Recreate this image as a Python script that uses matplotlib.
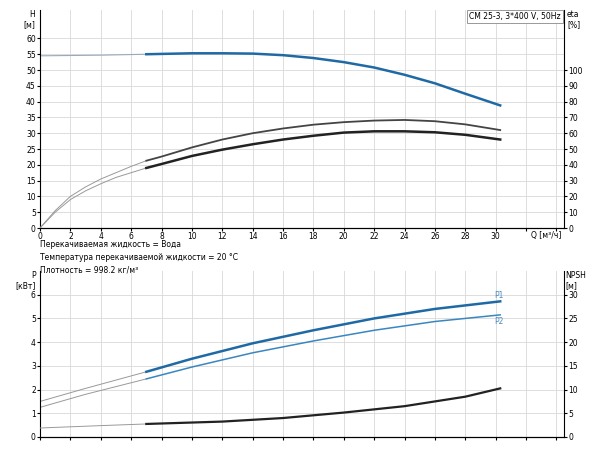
import matplotlib
matplotlib.use("Agg")
import matplotlib.pyplot as plt

q_h = [0, 2, 4, 7, 10, 12, 14, 16, 18, 20, 22, 24, 26, 28, 30.3]
h = [54.5, 54.6, 54.7, 55.0, 55.3, 55.3, 55.2, 54.7, 53.8, 52.5, 50.8, 48.5, 45.8, 42.5, 38.8]
q_e = [0, 1, 2, 3, 4, 5, 6, 7, 8, 10, 12, 14, 16, 18, 20, 22, 24, 26, 28, 30.3]
eta_p = [0, 11, 20, 26, 31, 35, 39, 42.6, 45.2, 51, 56, 60, 63, 65.4, 67, 68, 68.4, 67.6, 65.6, 62]
eta_m = [0, 10, 18, 23.5, 28, 32, 35, 38, 40.5, 45.6, 49.6, 53, 56, 58.4, 60.4, 61.2, 61.2, 60.6, 59, 56]
q_p = [0, 3, 7, 10, 14, 18, 22, 26, 30.3]
p1 = [1.5, 2.05, 2.75, 3.3, 3.95, 4.5, 5.0, 5.4, 5.72]
p2 = [1.25, 1.8, 2.45, 2.95, 3.55, 4.05, 4.5, 4.87, 5.15]
q_n = [0, 4, 7, 12, 16, 20, 24, 28, 30.3]
npsh = [1.9, 2.4, 2.75, 3.25, 4.0, 5.15, 6.5, 8.5, 10.25]

def split(x, y, c=7):
    a = [(xi, yi) for xi, yi in zip(x, y) if xi <= c]
    b = [(xi, yi) for xi, yi in zip(x, y) if xi >= c]
    return list(zip(*a)), list(zip(*b))

fig = plt.figure(figsize=(6, 4.5), dpi=100)
fs = 5.5
ax1 = fig.add_axes([40/600, 1-228/450, 524/600, 218/450])
ax2 = fig.add_axes([40/600, 1-437/450, 524/600, 166/450])
blue = '#1f6aa5'
for ax in (ax1, ax2):
    ax.set_xlim(0, 34.5)
    ax.set_xticks(range(0, 35, 2))
    ax.grid(True, color='#d8d8d8', lw=0.6)
    ax.tick_params(labelsize=fs, length=2, pad=1)
    for s in ('top', 'right'):
        ax.spines[s].set_visible(False)
ax2.tick_params(labelbottom=False)
ax1.set_xticklabels([str(v) for v in range(0, 31, 2)] + ['', ''])
ax1.text(34.3, -1.0, 'Q [м³/ч]', fontsize=fs, ha='right', va='top')

ax1.set_ylim(0, 69)
ax1.set_yticks(range(0, 61, 5))
(a, b) = split(q_h, h)
ax1.plot(a[0], a[1], color='#9ab', lw=0.8)
ax1.plot(b[0], b[1], color=blue, lw=1.8)
ax1r = ax1.twinx()
ax1r.set_ylim(0, 138)
ax1r.set_yticks(range(0, 101, 10))
ax1r.tick_params(labelsize=fs, length=2, pad=1)
for s in ('top', 'left'):
    ax1r.spines[s].set_visible(False)
for e, lwb in ((eta_p, 1.3), (eta_m, 1.8)):
    a, b = split(q_e, e)
    ax1r.plot(a[0], a[1], color='#999', lw=0.7)
    ax1r.plot(b[0], b[1], color='#222' if lwb > 1.5 else '#444', lw=lwb)
ax1.text(-0.3, 69, 'H\n[м]', fontsize=fs, ha='right', va='top')
ax1r.text(34.7, 138, 'eta\n[%]', fontsize=fs, ha='left', va='top')
ax1.text(34.3, 68.5, 'CM 25-3, 3*400 V, 50Hz', fontsize=fs, ha='right', va='top',
         bbox=dict(facecolor='white', edgecolor='#888', lw=0.6, pad=1.5))

fig.text(40/600, 1-240/450, 'Перекачиваемая жидкость = Вода\nТемпература перекачиваемой жидкости = 20 °C\nПлотность = 998.2 кг/м³',
         fontsize=fs, va='top', linespacing=1.55)

ax2.set_ylim(0, 7)
ax2.set_yticks(range(0, 7))
for p, lw in ((p1, 1.8), (p2, 1.1)):
    a, b = split(q_p, p)
    ax2.plot(a[0], a[1], color='#999', lw=0.7)
    ax2.plot(b[0], b[1], color=blue if lw > 1.5 else '#3a86c0', lw=lw)
ax2.text(29.9, 5.85, 'P1', fontsize=fs, color='#4a8ac0')
ax2.text(29.9, 4.75, 'P2', fontsize=fs, color='#4a8ac0')
ax2r = ax2.twinx()
ax2r.set_ylim(0, 35)
ax2r.set_yticks(range(0, 31, 5))
ax2r.tick_params(labelsize=fs, length=2, pad=1)
for s in ('top', 'left'):
    ax2r.spines[s].set_visible(False)
a, b = split(q_n, npsh)
ax2r.plot(a[0], a[1], color='#999', lw=0.7)
ax2r.plot(b[0], b[1], color='#222', lw=1.6)
ax2.text(-0.3, 7, 'P\n[кВт]', fontsize=fs, ha='right', va='top')
ax2r.text(34.6, 35, 'NPSH\n[м]', fontsize=fs, ha='left', va='top')

fig.savefig('out.png', dpi=100)
